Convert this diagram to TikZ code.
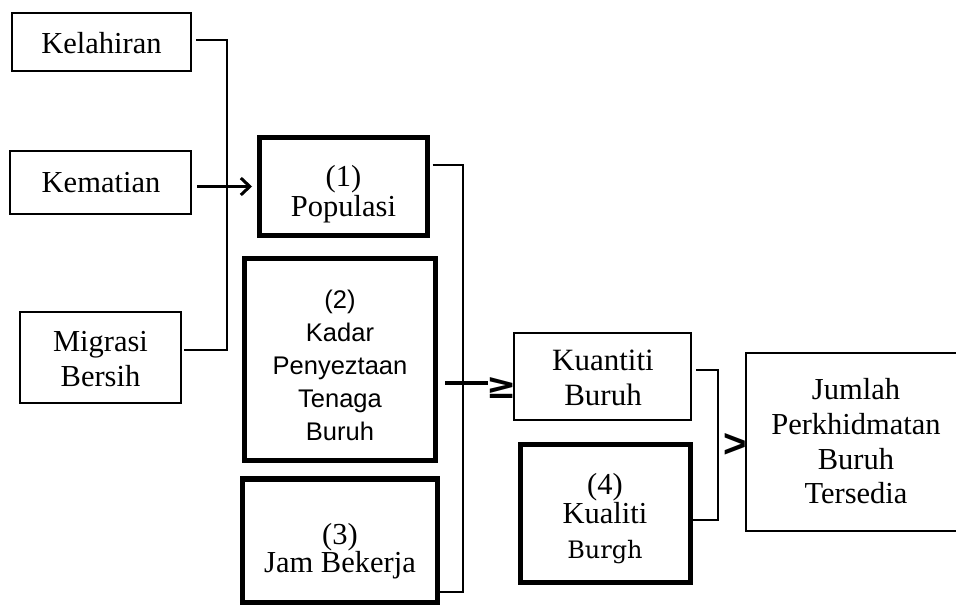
\documentclass[tikz,border=0pt]{standalone}
\usepackage{fontspec}
\setmainfont{Liberation Serif}
\newfontfamily\arialf{Liberation Sans}
\newfontfamily\djsans{DejaVu Sans}
\newfontfamily\djserif{DejaVu Serif}
\usetikzlibrary{arrows.meta}
\begin{document}
\begin{tikzpicture}[x=1pt,y=-1pt,
  thinbox/.style={draw,line width=2.4pt,inner sep=0pt,outer sep=0pt},
  midbox/.style={draw,line width=2.8pt,inner sep=0pt,outer sep=0pt},
  thickbox/.style={draw,line width=5.5pt,inner sep=0pt,outer sep=0pt},
  txt/.style={align=center,inner sep=0pt,font=\fontsize{30.5pt}{30pt}\selectfont},
  conn/.style={line width=1.6pt},
  arr/.style={line width=3pt,-{Straight Barb[length=9pt,width=17pt]}},
  hline/.style={line width=3.2pt}]
\useasboundingbox (0,0) rectangle (956,605);
\clip (0,0) rectangle (956,605);
\fill[white] (0,0) rectangle (956,605);

% left column
\node[thinbox,minimum width=179pt,minimum height=58pt] (kel) at (101.5,42) {};
\node[txt] (kelt) at (101.5,43) {Kelahiran};
\node[thinbox,minimum width=181pt,minimum height=63pt] (kem) at (100.5,182.5) {};
\node[txt] (kemt) at (101,183) {Kematian};
\node[thinbox,minimum width=161pt,minimum height=91pt] (mig) at (100.5,357.5) {};
\node[txt,font=\fontsize{30.5pt}{35pt}\selectfont] (migt) at (100.5,359) {Migrasi\\Bersih};

% middle column
\node[thickbox,minimum width=168pt,minimum height=98pt] (pop) at (343.5,186.5) {};
\node[txt] (popt) at (343.5,194) {(1)\\Populasi};
\node[thickbox,minimum width=191pt,minimum height=202pt] (kad) at (340,359.5) {};
\node[txt,font=\arialf\fontsize{25.5pt}{33pt}\selectfont] (kadt) at (340,365) {(2)\\Kadar\\Penyeztaan\\Tenaga\\Buruh};
\node[thickbox,minimum width=195pt,minimum height=124pt] (jam) at (340,541) {};
\node[txt,font=\fontsize{30.5pt}{27pt}\selectfont] (jamt) at (340,551) {(3)\\Jam Bekerja};

% right-middle column
\node[midbox,minimum width=177pt,minimum height=87pt] (kua) at (602.5,376.5) {};
\node[txt,font=\fontsize{31pt}{35pt}\selectfont] (kuat) at (603,378) {Kuantiti\\Buruh};
\node[thickbox,line width=5pt,minimum width=170pt,minimum height=138pt] (kul) at (605,513) {};
\node[txt,font=\fontsize{30.5pt}{29pt}\selectfont] (kult) at (605,519) {(4)\\Kualiti\\[6pt]{\djserif\fontsize{24pt}{29pt}\selectfont Burgh}};

% right column
\node[midbox,minimum width=220pt,minimum height=178pt] (jum) at (856,442) {};
\node[txt,font=\fontsize{30.5pt}{34.7pt}\selectfont] (jumt) at (856,441.5) {Jumlah\\Perkhidmatan\\Buruh\\Tersedia};

% left bracket
\coordinate (lbt) at (227,40);
\coordinate (lbb) at (227,350);
\draw[conn] ([xshift=5pt]kel.east |- lbt) -- (lbt) -- (lbb) -- ([xshift=3pt]mig.east |- lbb);
\draw[arr,shorten <=6pt,shorten >=7.5pt] (kem.east |- pop) -- (pop.west);

% middle bracket
\coordinate (rbt) at (463,165);
\coordinate (rbb) at (463,592);
\draw[conn] ([xshift=5pt]pop.east |- rbt) -- (rbt) -- (rbb) -- ([xshift=2pt]jam.east |- rbb);
\coordinate (kq) at (488,383);
\draw[hline] ([xshift=9.5pt]kad.east |- kq) -- (kq);
\node[inner sep=0pt,font=\djsans\bfseries\fontsize{36pt}{36pt}\selectfont] (geq) at (502,388) {≥};

% right bracket
\coordinate (qbt) at (718,370);
\coordinate (qbb) at (718,520);
\draw[conn] ([xshift=5pt]kua.east |- qbt) -- (qbt) -- (qbb) -- ([xshift=3pt]kul.east |- qbb);
\node[inner sep=0pt,font=\arialf\bfseries\fontsize{40pt}{40pt}\selectfont] (gt) at (735,445) {>};
\end{tikzpicture}
\end{document}
